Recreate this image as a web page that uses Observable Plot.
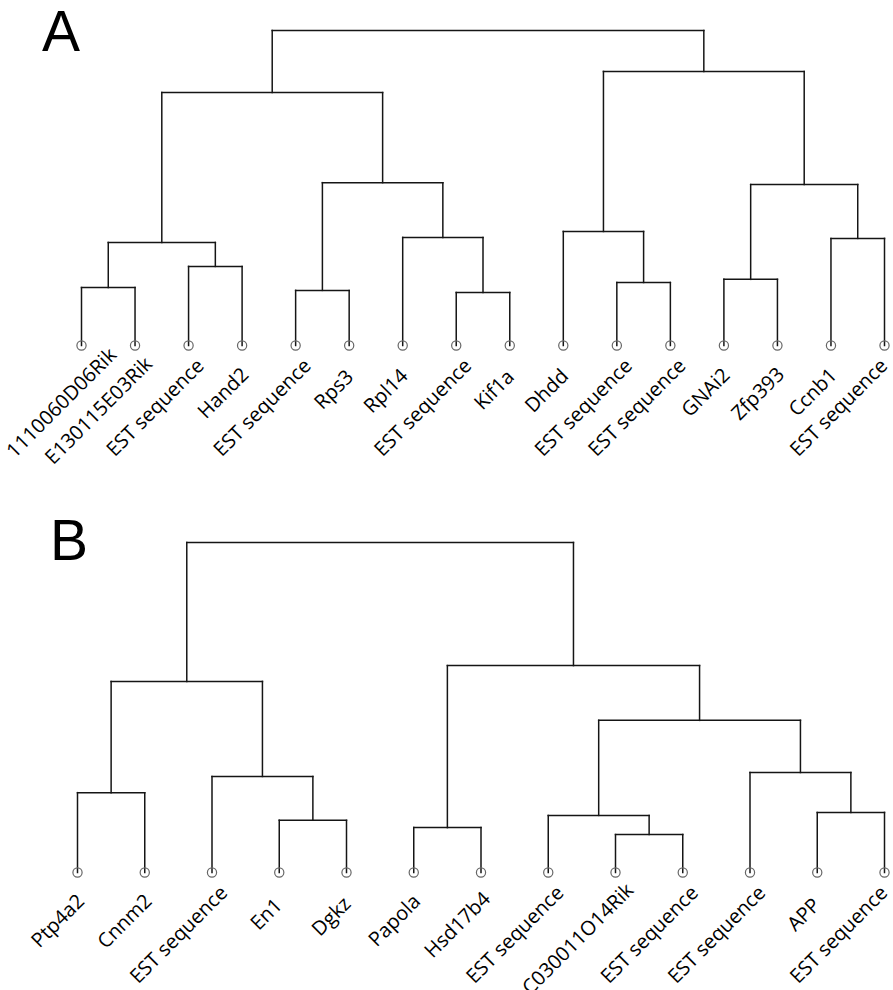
<!DOCTYPE html>
<html><head><meta charset="utf-8">
<script src="https://cdn.jsdelivr.net/npm/d3@7"></script>
<script src="https://cdn.jsdelivr.net/npm/@observablehq/plot@0.6"></script>
<style>
body{margin:0;background:#fff;}
#wrap{position:relative;width:893px;height:990px;overflow:hidden;}
.tag{position:absolute;font-family:"Liberation Sans",Arial,sans-serif;font-size:57px;line-height:1;color:#000;}
svg{display:block;}
</style></head><body>
<div id="wrap"></div>
<script>
// Panel names
const panelNames = ["A", "B"];

// Panel A: leaf labels (left to right)
const leavesA = ["1110060D06Rik", "E130115E03Rik", "EST sequence", "Hand2", "EST sequence", "Rps3",
  "Rpl14", "EST sequence", "Kif1a", "Dhdd", "EST sequence", "EST sequence", "GNAi2", "Zfp393",
  "Ccnb1", "EST sequence"];
// Panel A merges: [left, right, height]; negative = leaf (1-based), positive = earlier merge (1-based)
const mergesA = [
  [-1, -2, 0.184],
  [-3, -4, 0.251],
  [1, 2, 0.327],
  [-5, -6, 0.175],
  [-8, -9, 0.168],
  [-7, 5, 0.343],
  [4, 6, 0.517],
  [3, 7, 0.803],
  [-11, -12, 0.200],
  [-10, 9, 0.362],
  [-13, -14, 0.210],
  [-15, -16, 0.340],
  [11, 12, 0.511],
  [10, 13, 0.870],
  [8, 14, 1.000]
];

// Panel B: leaf labels
const leavesB = ["Ptp4a2", "Cnnm2", "EST sequence", "En1", "Dgkz", "Papola", "Hsd17b4",
  "EST sequence", "C030011O14Rik", "EST sequence", "EST sequence", "APP", "EST sequence"];
const mergesB = [
  [-1, -2, 0.242],
  [-4, -5, 0.158],
  [-3, 2, 0.291],
  [1, 3, 0.579],
  [-6, -7, 0.136],
  [-9, -10, 0.115],
  [-8, 6, 0.173],
  [-12, -13, 0.182],
  [-11, 8, 0.303],
  [7, 9, 0.461],
  [5, 10, 0.627],
  [4, 11, 1.000]
];

const ANGLE = -45;

function dendroSegments(merges) {
  const pos = [];
  const node = id => id < 0 ? {x: -id - 1, h: 0} : pos[id - 1];
  const segs = [];
  merges.forEach(([a, b, h]) => {
    const A = node(a), B = node(b);
    segs.push({x1: A.x, y1: h, x2: B.x, y2: h});
    segs.push({x1: A.x, y1: A.h, x2: A.x, y2: h});
    segs.push({x1: B.x, y1: B.h, x2: B.x, y2: h});
    pos.push({x: (A.x + B.x) / 2, h});
  });
  return segs;
}

function panel(leaves, merges, m) {
  const segs = dendroSegments(merges);
  const leafData = leaves.map((label, i) => ({i, label}));
  return Plot.plot({
    width: 893, height: 495,
    marginLeft: m.left, marginRight: m.right, marginTop: m.top, marginBottom: m.bottom,
    x: {domain: [0, leaves.length - 1], axis: null},
    y: {domain: [0, 1], axis: null},
    style: {overflow: "visible", background: "transparent"},
    marks: [
      Plot.link(segs, {x1: "x1", y1: "y1", x2: "x2", y2: "y2", stroke: "#151515", strokeWidth: 1.5, strokeLinecap: "square"}),
      Plot.dot(leafData, {x: "i", y: () => 0, r: 4.6, stroke: "#666", fill: "none", strokeWidth: 1.2}),
      Plot.text(leafData, {x: "i", y: () => 0, text: "label", rotate: ANGLE, textAnchor: "end", lineAnchor: "bottom",
        dx: -0.6, dy: 38.8, fontSize: 20, fontFamily: "Open Sans", fill: "#000", className: "leaflab"})
    ]
  });
}

const wrap = document.getElementById("wrap");
wrap.appendChild(panel(leavesA, mergesA, {left: 81, right: 9, top: 30, bottom: 150}));
wrap.appendChild(panel(leavesB, mergesB, {left: 77, right: 9, top: 47, bottom: 118}));

// End-aligned labels; longer labels sit a little further along their baseline,
// and labels are nudged to stay inside the picture (as in the reference).
const wr = wrap.getBoundingClientRect();
const cosA = Math.cos(Math.abs(ANGLE) * Math.PI / 180);
wrap.querySelectorAll(".leaflab text").forEach(t => {
  const base = t.getAttribute("transform") || "";
  const shift = 0.19 * t.getComputedTextLength();
  t.setAttribute("transform", `${base} translate(${shift.toFixed(2)},0)`);
  const r = t.getBoundingClientRect();
  const left = r.left - wr.left, right = r.right - wr.left;
  if (left < 0) {
    const need = -left;
    const sx = need / 2, along = (need / 2) / cosA;
    t.setAttribute("transform", `translate(${sx.toFixed(2)},0) ${base} translate(${(shift + along).toFixed(2)},0)`);
  } else if (right > 893) {
    t.setAttribute("transform", `translate(${(893 - right).toFixed(2)},0) ${base} translate(${shift.toFixed(2)},0)`);
  }
});

const tagPos = [{left: 42, top: 3}, {left: 50, top: 512}];
panelNames.forEach((t, k) => {
  const d = document.createElement("div");
  d.className = "tag";
  d.textContent = t;
  d.style.left = tagPos[k].left + "px";
  d.style.top = tagPos[k].top + "px";
  wrap.appendChild(d);
});
</script>
</body></html>
